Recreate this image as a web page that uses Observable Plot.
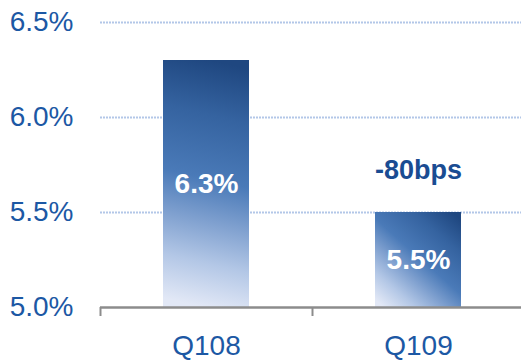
<!DOCTYPE html>
<html>
<head>
<meta charset="utf-8">
<script src="https://cdn.jsdelivr.net/npm/d3@7"></script>
<script src="https://cdn.jsdelivr.net/npm/@observablehq/plot@0.6"></script>
<style>
  html, body { margin: 0; padding: 0; background: #fff; }
  #chart svg { display: block; }
</style>
</head>
<body>
<div id="chart"></div>
<script>
const categories = ["Q108", "Q109"];
const values = [6.3, 5.5];
const barLabels = ["6.3%", "5.5%"];
const yTicks = [5.0, 5.5, 6.0, 6.5];
const gridTicks = [5.5, 6.0, 6.5];
const annotation = { category: "Q109", text: "-80bps", anchorValue: 5.5 };
const baseValue = 5.0;

const data = categories.map((c, i) => ({ category: c, value: values[i], label: barLabels[i], grad: "url(#barGrad" + i + ")" }));

const W = 521, H = 360;
const xRange = [100, 524];
const step = (xRange[1] - xRange[0]) / categories.length;
const font = "'Liberation Sans', Arial, sans-serif";
const axisBlue = "#1C58A4";

const plot = Plot.plot({
  width: W,
  height: H,
  marginLeft: 100,
  marginRight: 0,
  marginTop: 22,
  marginBottom: 53,
  style: { fontFamily: font, fontSize: "28px", background: "#fff" },
  x: { domain: categories, range: xRange, paddingInner: 0.594, paddingOuter: 0.297, axis: null },
  y: { domain: [5.0, 6.5], axis: null },
  color: { type: "identity" },
  marks: [
    Plot.ruleY(gridTicks, { stroke: "#B3C7E8", strokeWidth: 2, strokeDasharray: "2,1" }),
    Plot.barY(data, { x: "category", y1: baseValue, y2: "value", fill: "grad" }),
    Plot.ruleY([baseValue], { stroke: "#8C8C8C", strokeWidth: 2.5 }),
    Plot.ruleX(categories, { x: d => d, y1: baseValue, y2: baseValue, dx: -step / 2, insetBottom: -9, stroke: "#8C8C8C", strokeWidth: 2 }),
    Plot.axisY(yTicks, { tickSize: 0, tickPadding: 27, tickFormat: d => d.toFixed(1) + "%", fill: axisBlue, fontSize: 28 }),
    Plot.text(categories, { x: d => d, y: baseValue, dy: 39, text: d => d, fill: axisBlue, fontSize: 28 }),
    Plot.text(data, { x: "category", y: d => (baseValue + d.value) / 2, text: "label", fill: "#fff", fontWeight: "bold", fontSize: 28 }),
    Plot.text([annotation], { x: "category", y: "anchorValue", dy: -42, text: "text", fill: "#1A4C92", fontWeight: "bold", fontSize: 27 })
  ]
});

const ns = "http://www.w3.org/2000/svg";
const defs = document.createElementNS(ns, "defs");
const stops = [["0", "#E2E8F6"], ["0.18", "#B3C7E6"], ["0.35", "#7FA0CF"], ["0.52", "#4A7AB8"], ["0.78", "#3563A0"], ["1", "#1F4780"]];
const vectors = [[0.46, 1, 0.54, 0], [0.1, 1, 0.9, 0]];
vectors.forEach((v, i) => {
  const grad = document.createElementNS(ns, "linearGradient");
  grad.setAttribute("id", "barGrad" + i);
  grad.setAttribute("x1", v[0]); grad.setAttribute("y1", v[1]);
  grad.setAttribute("x2", v[2]); grad.setAttribute("y2", v[3]);
  stops.forEach(([o, c]) => {
    const s = document.createElementNS(ns, "stop");
    s.setAttribute("offset", o); s.setAttribute("stop-color", c);
    grad.appendChild(s);
  });
  defs.appendChild(grad);
});
plot.insertBefore(defs, plot.firstChild);

document.getElementById("chart").appendChild(plot);
</script>
</body>
</html>
